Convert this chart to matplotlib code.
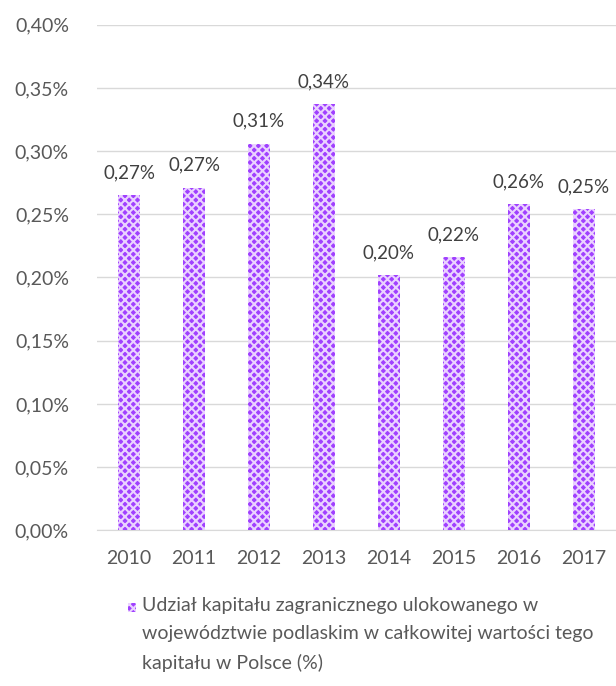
import matplotlib.pyplot as plt
from matplotlib.patches import Rectangle

plt.rcParams['font.family'] = ['Lato', 'DejaVu Sans']
plt.rcParams['hatch.linewidth'] = 1.5

years = ['2010', '2011', '2012', '2013', '2014', '2015', '2016', '2017']
share = [0.265, 0.271, 0.306, 0.337, 0.202, 0.216, 0.258, 0.254]
yticks = [0.00, 0.05, 0.10, 0.15, 0.20, 0.25, 0.30, 0.35, 0.40]
legend_text = ('Udział kapitału zagranicznego ulokowanego w\n'
               'województwie podlaskim w całkowitej wartości tego\n'
               'kapitału w Polsce (%)')

grey = '#595959'
bar_col = '#a040ff'
hatch_col = '#ead2ff'

fig = plt.figure(figsize=(6.16, 6.86), dpi=100)
ax = fig.add_axes([0.157, 0.227, 0.843, 0.737])

x = range(len(years))
bars = ax.bar(x, share, width=0.34, color=bar_col, edgecolor=hatch_col,
              hatch='xxxx', linewidth=0, zorder=3)

for xi, v in zip(x, share):
    ax.text(xi, v + 0.011, f'{v:.2f}%'.replace('.', ','), ha='center',
            va='bottom', fontsize=13.5, color='#404040')

ax.set_ylim(0, 0.40)
ax.set_xlim(-0.5, len(years) - 0.5)
ax.set_yticks(yticks)
ax.set_yticklabels([f'{t:.2f}%'.replace('.', ',') for t in yticks])
ax.set_xticks(list(x))
ax.set_xticklabels(years)
ax.tick_params(length=0, labelsize=14, colors=grey)
ax.tick_params(axis='y', pad=20)
ax.tick_params(axis='x', pad=14)
ax.grid(axis='y', color='#d9d9d9', linewidth=1, zorder=0)
for s in ax.spines.values():
    s.set_visible(False)
ax.spines['bottom'].set_visible(True)
ax.spines['bottom'].set_color('#d9d9d9')

# legend
fig.patches.append(Rectangle((0.207, 0.108), 0.0145, 0.013, transform=fig.transFigure,
                             facecolor=bar_col, edgecolor=hatch_col, hatch='xxxx',
                             linewidth=0))
fig.text(0.230, 0.130, legend_text, ha='left', va='top', fontsize=14,
         color=grey, linespacing=1.78)

fig.savefig('out.png', dpi=100, facecolor='white')
